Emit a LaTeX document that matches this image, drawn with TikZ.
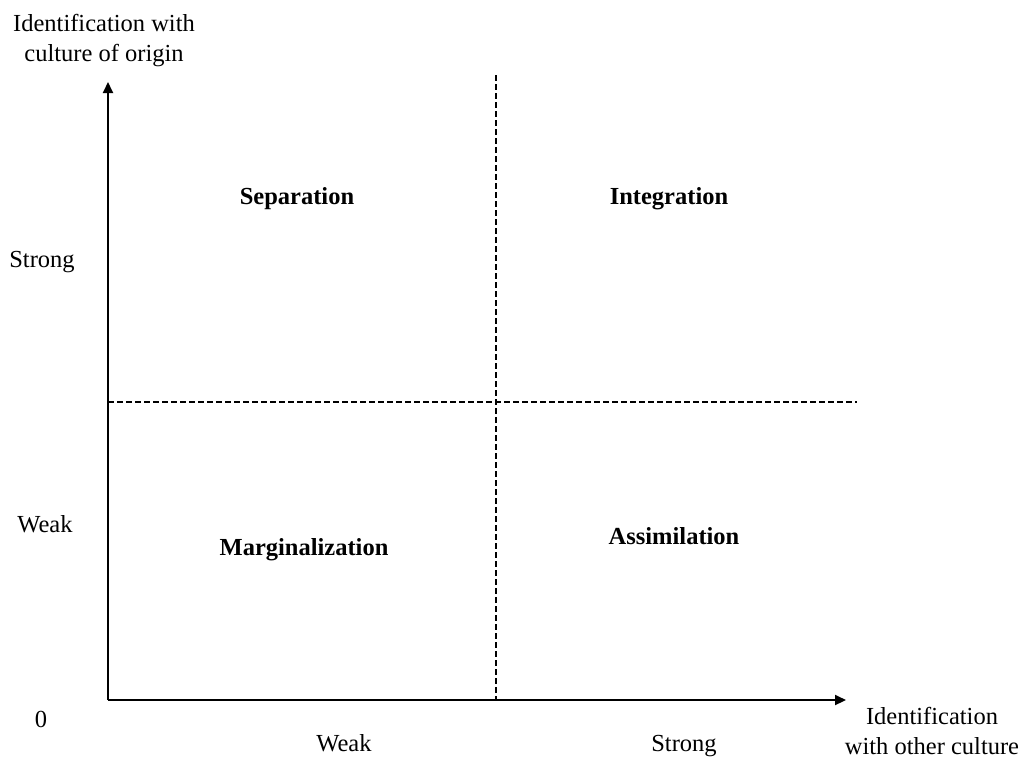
\documentclass[tikz,border=0pt]{standalone}
\usepackage{fontspec}
\setmainfont{Liberation Serif}
\usetikzlibrary{arrows.meta}
\begin{document}
\begin{tikzpicture}[x=1pt,y=1pt,
  lbl/.style={inner sep=0pt,font=\fontsize{24.5}{30}\selectfont,align=center},
  quad/.style={inner sep=0pt,anchor=base,font=\fontsize{24.5}{30}\selectfont\bfseries},
  axis/.style={line width=2pt,-{Triangle[length=11pt,width=10pt]}},
  divider/.style={line width=1.4pt,dash pattern=on 6pt off 3pt}]
\useasboundingbox (0,0) rectangle (1024,-756);
\coordinate (O) at (108,-700);
\coordinate (ytip) at (108,-82);
\coordinate (xtip) at (846,-700);
\coordinate (vtop) at (496,-75);
\coordinate (vbot) at (496,-700);
\coordinate (hl) at (108,-402);
\coordinate (hr) at (857,-402);
\draw[divider] (vtop) -- (vbot);
\draw[divider] (hl) -- (hr);
\draw[axis] (O) -- (ytip);
\draw[axis] (O) -- (xtip);
\node[lbl] (ylab) at (104,-41) {Identification with\\culture of origin};
\node[lbl] (xlab) at (932,-731) {Identification\\with other culture};
\node[lbl,anchor=base] (ystrong) at (42,-267) {Strong};
\node[lbl,anchor=base] (yweak) at (45,-532) {Weak};
\node[lbl,anchor=base] (zero) at (41,-727) {0};
\node[lbl,anchor=base] (xweak) at (344,-751) {Weak};
\node[lbl,anchor=base] (xstrong) at (684,-751) {Strong};
\node[quad] (sep) at (297,-204) {Separation};
\node[quad] (int) at (669,-204) {Integration};
\node[quad] (mar) at (304,-555) {Marginalization};
\node[quad] (ass) at (674,-544) {Assimilation};
\end{tikzpicture}
\end{document}
